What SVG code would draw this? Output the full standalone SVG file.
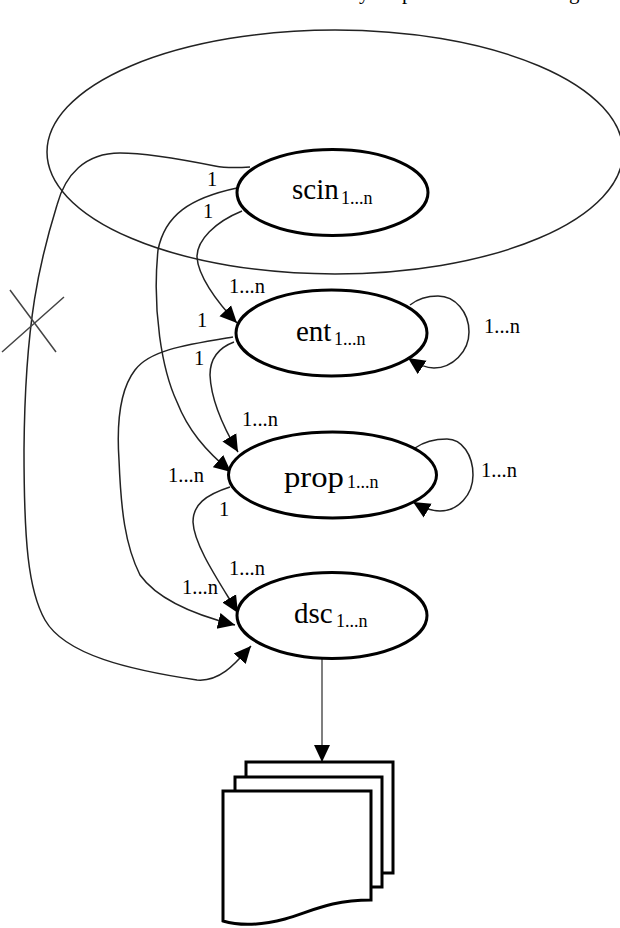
<svg xmlns="http://www.w3.org/2000/svg" width="620" height="928" viewBox="0 0 620 928">
<style>
text{font-family:"Liberation Serif","Times New Roman",serif;fill:#000}
.nm{font-size:29px}
.sub{font-size:18px}
.lb{font-size:20.5px}
.cut{font-size:21px}
.n{fill:#fff;stroke:#000;stroke-width:3}
.o{fill:none;stroke:#222;stroke-width:1.5}
.c{fill:none;stroke:#222;stroke-width:1.5}
.a{marker-end:url(#ah)}
.d{fill:#fff;stroke:#000;stroke-width:3}
</style>
<defs>
<marker id="ah" markerUnits="userSpaceOnUse" markerWidth="18" markerHeight="18" refX="17" refY="9" orient="auto">
<path d="M0 1 L17 9 L0 17 Z" fill="#000"/>
</marker>
</defs>
<rect width="620" height="928" fill="#fff"/>
<g id="header">
<text class="cut" x="359" y="-1">y</text>
<text class="cut" x="402" y="-1">p</text>
<text class="cut" x="569" y="-1">g</text>
</g>
<g id="context"><ellipse class="o" cx="335" cy="152" rx="288" ry="122"/></g>
<g id="connectors">
<path class="c a" d="M250 167 C235 168 225 168 215 166 C190 161 150 153 120 153 C85 153 65 175 57 205 C40 260 25 320 24 450 C24 540 28 590 45 620 C65 655 130 670 197 680 C220 682 235 664 251 646"/>
<path class="c a" d="M237 188 C190 198 165 215 158 250 C152 310 162 370 177 402 C188 430 205 450 231 472"/>
<path class="c a" d="M242 211 C215 222 197 240 197 257 C198 275 215 300 237 323"/>
<path class="c a" d="M233 337 C185 345 150 350 135 370 C118 392 117 430 119 460 C121 510 125 545 140 575 C158 600 195 615 235 625"/>
<path class="c a" d="M234 342 C218 348 210 358 210 375 C211 400 222 425 238 452"/>
<path class="c a" d="M230 487 C205 495 193 505 193 522 C194 545 218 580 238 613"/>
<path class="c a" d="M410 305 C420 297 430 296 438 296 C455 296 469 312 469 332 C469 352 452 368 434 368 C428 368 420 366 408 358"/>
<path class="c a" d="M415 448 C425 441 436 439 447 439 C462 439 473 455 473 475 C473 495 458 511 440 511 C433 511 425 509 413 502"/>
<path class="c a" d="M322 658 L322 762" style="stroke:#555"/>
<path class="c" d="M10 290 L56 352 M2 352 L64 297" style="stroke:#444"/>
</g>
<g id="labels">
<text class="lb" x="207" y="186">1</text>
<text class="lb" x="203" y="218">1</text>
<text class="lb" x="229" y="293">1...n</text>
<text class="lb" x="197" y="327">1</text>
<text class="lb" x="194" y="365">1</text>
<text class="lb" x="484" y="333">1...n</text>
<text class="lb" x="242" y="426">1...n</text>
<text class="lb" x="168" y="482">1...n</text>
<text class="lb" x="219" y="516">1</text>
<text class="lb" x="481" y="477">1...n</text>
<text class="lb" x="229" y="575">1...n</text>
<text class="lb" x="182" y="594">1...n</text>
</g>
<g id="scin"><ellipse class="n" cx="332.5" cy="192.5" rx="95.5" ry="43"/>
<text class="nm" x="292" y="199">scin</text><text class="sub" x="341" y="204">1...n</text></g>
<g id="ent"><ellipse class="n" cx="331.5" cy="333" rx="95.5" ry="43"/>
<text class="nm" x="296" y="341">ent</text><text class="sub" x="334" y="345">1...n</text></g>
<g id="prop"><ellipse class="n" cx="332.5" cy="475" rx="104" ry="43"/>
<text class="nm" x="284" y="487" textLength="60" lengthAdjust="spacingAndGlyphs">prop</text><text class="sub" x="347" y="488">1...n</text></g>
<g id="dsc"><ellipse class="n" cx="332" cy="615.5" rx="95" ry="43"/>
<text class="nm" x="294" y="623">dsc</text><text class="sub" x="336" y="627">1...n</text></g>
<g id="documents">
<path class="d" d="M246 762 H393 V873 H246 Z"/>
<path class="d" d="M235 777 H382 V887 H235 Z"/>
<path class="d" d="M223 791 H371 V900 C330 900 310 912 285 919 C262 925 240 926 223 921 Z"/>
</g>
</svg>
